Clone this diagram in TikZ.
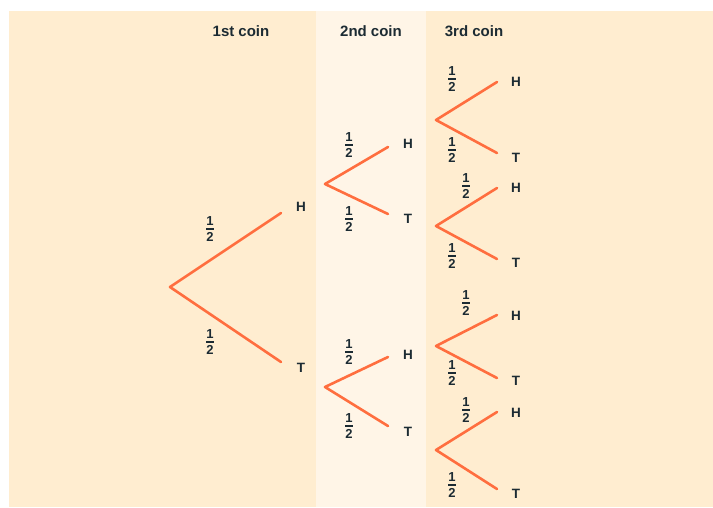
\documentclass[tikz,border=0pt]{standalone}
\usepackage{fontspec}
\setmainfont{Liberation Sans}
\definecolor{bgmain}{HTML}{FFEDD0}
\definecolor{bgband}{HTML}{FFF5E7}
\definecolor{branch}{HTML}{FF6E3F}
\definecolor{ink}{HTML}{1C2B33}
\begin{document}
\begin{tikzpicture}[x=1pt,y=-1pt,
  br/.style={draw=branch,line width=2.6pt,line cap=round,line join=round},
  hdr/.style={font=\bfseries\fontsize{15}{17}\selectfont,text=ink,inner sep=0pt},
  lab/.style={font=\bfseries\fontsize{13.5}{15}\selectfont,text=ink,inner sep=0pt},
  pr/.style={font=\bfseries\fontsize{13}{15}\selectfont,text=ink,inner sep=0pt}]
\useasboundingbox (0,0) rectangle (713,507);
\fill[bgmain] (9,11) rectangle (713,507);
\fill[bgband] (316,11) rectangle (426,507);
% headers
\node[hdr] (h1) at (241,31) {1st coin};
\node[hdr] (h2) at (371,31) {2nd coin};
\node[hdr] (h3) at (474,31) {3rd coin};
\newcommand{\half}{\vbox{\hbox to 8pt{\hss 1\hss}\kern2.6pt\hrule height 2pt\kern2.6pt\hbox to 8pt{\hss 2\hss}}}
% generic fork: root, H end, T end
\newcommand{\fork}[9]{%
  % #1 name, #2 rx, #3 ry, #4 ex, #5 hy, #6 ty, #7 lx (label x), #8 hl-dy, #9 tl-dy
  \coordinate (#1r) at (#2,#3);
  \coordinate (#1h) at (#4,#5);
  \coordinate (#1t) at (#4,#6);
  \draw[br] (#1h) -- (#1r) -- (#1t);
  \node[lab] (#1H) at (#7,#5+#8) {H};
  \node[lab] (#1T) at (#7,#6+#9) {T};
}
% 1st coin
\fork{a}{170}{287}{281}{213}{362}{301}{-6}{6}
\node[pr] (af1) at (210,229) {\half};
\node[pr] (af2) at (210,342) {\half};
% 2nd coin
\fork{b}{325}{184}{388}{147}{214}{408}{-3}{5}
\node[pr] (bf1) at (349,145) {\half};
\node[pr] (bf2) at (349,219) {\half};
\fork{c}{325}{387}{388}{357}{426}{408}{-2}{6}
\node[pr] (cf1) at (349,352) {\half};
\node[pr] (cf2) at (349,426) {\half};
% 3rd coin
\fork{d}{436}{120}{497}{82}{153}{516}{0}{5}
\node[pr] (df1) at (452,79) {\half};
\node[pr] (df2) at (452,150) {\half};
\fork{e}{436}{226}{497}{188}{259}{516}{0}{4}
\node[pr] (ef1) at (466,186) {\half};
\node[pr] (ef2) at (452,256) {\half};
\fork{f}{436}{346}{497}{315}{378}{516}{1}{3}
\node[pr] (ff1) at (466,303) {\half};
\node[pr] (ff2) at (452,373) {\half};
\fork{g}{436}{450}{497}{412}{489}{516}{1}{5}
\node[pr] (gf1) at (466,410) {\half};
\node[pr] (gf2) at (452,485) {\half};
\end{tikzpicture}
\end{document}
